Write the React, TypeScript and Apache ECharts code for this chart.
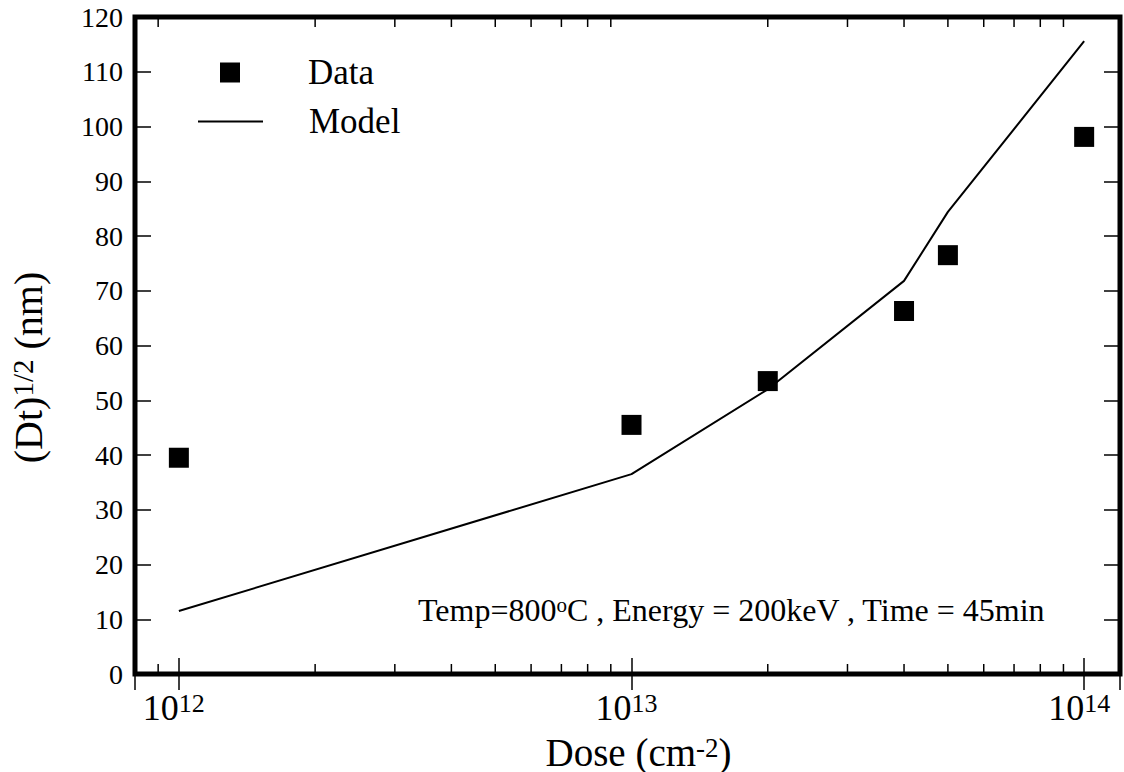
import React, { useEffect, useRef } from "react";
import * as echarts from "echarts";

// ---- data ----
const doses = [1e12, 1e13, 2e13, 4e13, 5e13, 1e14];
const dataValues = [39.5, 45.5, 53.5, 66.3, 76.5, 98.1];
const modelValues = [11.5, 36.5, 52.0, 71.8, 84.4, 115.6];
const minorTicks = [9e11, 2e12, 3e12, 4e12, 5e12, 6e12, 7e12, 8e12, 9e12, 2e13, 3e13, 4e13, 5e13, 6e13, 7e13, 8e13, 9e13];
const xMin = 8e11;
const xMax = 1.2e14;
const yMin = 0;
const yMax = 120;
const yInterval = 10;
const annotation = "Temp=800{sup|o}C , Energy = 200keV , Time = 45min";

const FONT = '"Liberation Serif", "Times New Roman", serif';

export default function App() {
  const ref = useRef<HTMLDivElement>(null);
  useEffect(() => {
    if (!ref.current) return;
    const chart = echarts.init(ref.current, undefined, { renderer: "svg" });
    const tick = () => ({ show: true, inside: true, length: 16, lineStyle: { color: "#000", width: 1.5 } });
    const noLine = () => ({ show: false });
    const option: any = {
      animation: false,
      backgroundColor: "#fff",
      grid: {
        left: 135,
        right: 4,
        top: 17,
        bottom: 98,
        containLabel: false,
        outerBoundsMode: "none",
        show: true,
        borderWidth: 5,
        borderColor: "#000",
        backgroundColor: "transparent",
      },
      xAxis: [
        {
          type: "log",
          logBase: 10,
          min: xMin,
          max: xMax,
          position: "bottom",
          axisLine: noLine(),
          axisTick: tick(),
          splitLine: { show: false },
          axisLabel: {
            margin: 16,
            padding: [0, 10, 0, 0],
            formatter: (v: number) => `{b|10}{s|${Math.round(Math.log10(v))}}`,
            rich: {
              b: { fontSize: 36, fontFamily: FONT, color: "#000" },
              s: { fontSize: 26, fontFamily: FONT, color: "#000", verticalAlign: "top" },
            },
          },
          name: "{a|Dose (cm}{s|-2}{a|)}",
          nameLocation: "middle",
          nameGap: 60,
          nameTextStyle: {
            padding: [0, 0, 0, 22],
            rich: {
              a: { fontSize: 39, lineHeight: 36, fontFamily: FONT, color: "#000" },
              s: { fontSize: 27, lineHeight: 27, fontFamily: FONT, color: "#000", verticalAlign: "top" },
            },
          },
        },
        {
          type: "log",
          logBase: 10,
          min: xMin,
          max: xMax,
          position: "top",
          axisLine: noLine(),
          axisTick: tick(),
          splitLine: { show: false },
          axisLabel: { show: false },
        },
      ],
      yAxis: [
        {
          type: "value",
          min: yMin,
          max: yMax,
          interval: yInterval,
          position: "left",
          axisLine: noLine(),
          axisTick: tick(),
          splitLine: { show: false },
          axisLabel: { margin: 12, fontSize: 28, fontFamily: FONT, color: "#000" },
          name: "{a|(Dt)}{s|1/2}{a| (nm)}",
          nameLocation: "middle",
          nameRotate: 90,
          nameGap: 87,
          nameTextStyle: {
            padding: [0, 44, 0, 0],
            rich: {
              a: { fontSize: 40, fontFamily: FONT, color: "#000" },
              s: { fontSize: 29, fontFamily: FONT, color: "#000", verticalAlign: "top" },
            },
          },
        },
        {
          type: "value",
          min: yMin,
          max: yMax,
          interval: yInterval,
          position: "right",
          axisLine: noLine(),
          axisTick: tick(),
          splitLine: { show: false },
          axisLabel: { show: false },
        },
      ],
      legend: [
        {
          data: ["Data"],
          left: 220,
          top: 55,
          padding: 0,
          orient: "vertical",
          itemWidth: 20,
          itemHeight: 20,
          icon: "rect",
          selectedMode: false,
          textStyle: { fontSize: 35, fontFamily: FONT, color: "#000", padding: [0, 0, 0, 63] },
        },
        {
          data: ["Model"],
          left: 197,
          top: 104,
          padding: 0,
          orient: "vertical",
          itemWidth: 65,
          itemHeight: 20,
          selectedMode: false,
          itemStyle: { opacity: 0 },
          lineStyle: { color: "#000", width: 2, opacity: 1 },
          textStyle: { fontSize: 35, fontFamily: FONT, color: "#000", padding: [0, 0, 0, 41] },
        },
      ],
      graphic: [
        {
          type: "text",
          left: 418,
          top: 594,
          style: {
            text: annotation,
            font: `32px ${FONT}`,
            fill: "#000",
            rich: {
              sup: { fontSize: 21, fontFamily: FONT, fill: "#000", verticalAlign: "top" },
            },
          },
        },
      ],
      series: [
        {
          name: "Model",
          type: "line",
          xAxisIndex: 0,
          yAxisIndex: 0,
          data: doses.map((d, i) => [d, modelValues[i]]),
          symbol: "none",
          showSymbol: false,
          lineStyle: { color: "#000", width: 2 },
          itemStyle: { color: "#000" },
          emphasis: { disabled: true },
        },
        {
          name: "Data",
          type: "scatter",
          xAxisIndex: 0,
          yAxisIndex: 0,
          data: doses.map((d, i) => [d, dataValues[i]]),
          symbol: "rect",
          symbolSize: 20,
          itemStyle: { color: "#000", opacity: 1 },
          emphasis: { disabled: true },
        },
        {
          name: "minorTicks",
          type: "custom",
          xAxisIndex: 0,
          yAxisIndex: 0,
          silent: true,
          clip: false,
          data: minorTicks.map((v) => [v, yMin]),
          renderItem: (_params: any, api: any) => {
            const v = api.value(0);
            const b = api.coord([v, yMin]);
            const t = api.coord([v, yMax]);
            return {
              type: "group",
              children: [
                { type: "line", shape: { x1: b[0], y1: b[1], x2: b[0], y2: b[1] - 10 }, style: { stroke: "#000", lineWidth: 1.5 } },
                { type: "line", shape: { x1: t[0], y1: t[1], x2: t[0], y2: t[1] + 10 }, style: { stroke: "#000", lineWidth: 1.5 } },
              ],
            };
          },
        },
      ],
    };
    chart.setOption(option);
    return () => chart.dispose();
  }, []);
  return (
    <div
      ref={ref}
      style={{ position: "absolute", left: 0, top: 0, width: 1124, height: 772, background: "#fff" }}
    />
  );
}
